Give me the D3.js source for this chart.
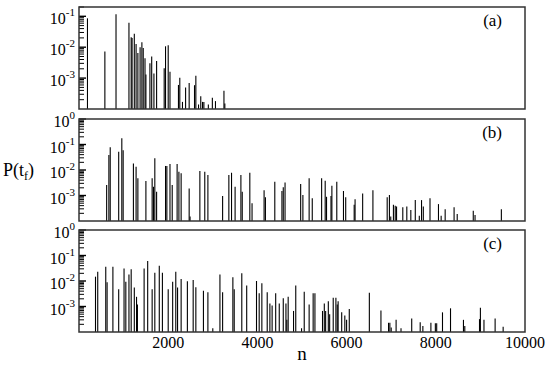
<!DOCTYPE html>
<html>
<head>
<meta charset="utf-8">
<script src="https://cdn.jsdelivr.net/npm/d3@7"></script>
<style>
  body { margin: 0; background: #fff; }
</style>
</head>
<body>
<svg id="chart" width="550" height="366" font-family="'Liberation Serif', 'Times New Roman', 'DejaVu Serif', serif"></svg>
<script>
// spike positions (n) and heights P(t_f)
const nA = [190, 580, 830, 1120, 1170, 1190, 1240, 1280, 1320, 1370, 1410, 1440, 1480, 1500,
            1590, 1630, 1680, 1740, 1910, 1940, 2000, 2040, 2230, 2260, 2320, 2390, 2470,
            2590, 2620, 2680, 2730, 2770, 2800, 2900, 2990, 3060, 3250, 3270];
const pA = [0.086, 0.0073, 0.116, 0.062, 0.021, 0.02, 0.027, 0.0127, 0.0065, 0.0099, 0.0144, 0.0094, 0.0044, 0.0013,
            0.003, 0.005, 0.0014, 0.0036, 0.0021, 0.0107, 0.0115, 0.0016, 0.0006, 0.00102, 0.00017, 0.0005, 0.0007,
            0.00059, 0.0012, 0.00014, 0.00026, 0.00017, 0.00017, 0.00014, 0.00023, 0.00018, 0.00039, 0.00015];

const nB = [620, 670, 700, 890, 960, 990, 1220, 1280, 1320, 1500, 1640, 1670, 1700, 1740, 1940, 1970,
            2040, 2090, 2200, 2240, 2290, 2470, 2490, 2710, 2820, 2890, 3220, 3360, 3420, 3500, 3630,
            3660, 3830, 3880, 4150, 4180, 4390, 4550, 4580, 4620, 4970, 5020, 5160, 5230, 5440, 5520,
            5550, 5650, 5670, 5780, 5930, 5980, 6170, 6190, 6360, 6590, 6910, 6960, 6990, 7050, 7090,
            7120, 7260, 7350, 7440, 7540, 7630, 7680, 7720, 7870, 8060, 8120, 8210, 8410, 8480, 8840,
            8880, 9470];
const pB = [0.0026, 0.039, 0.078, 0.052, 0.175, 0.06, 0.018, 0.0135, 0.0047, 0.0037, 0.0047, 0.0022, 0.029, 0.0014, 0.0144, 0.0144,
            0.017, 0.0026, 0.017, 0.0086, 0.0074, 0.0019, 0.00015, 0.0091, 0.0086, 0.0064, 0.00096, 0.0064, 0.0078, 0.0022, 0.0064,
            0.0014, 0.0078, 0.0005, 0.0016, 0.00085, 0.0035, 0.0015, 0.0021, 0.0032, 0.0028, 0.00104, 0.0047, 0.00078, 0.0047, 0.0038,
            0.00089, 0.00096, 0.0024, 0.0035, 0.0015, 0.00085, 0.00043, 0.00071, 0.0012, 0.0016, 0.00085, 0.00104, 0.00015, 0.00043, 0.0004,
            0.00037, 0.00035, 0.00037, 0.00027, 0.00066, 0.00016, 0.00066, 0.00037, 0.00078, 0.00046, 0.00016, 0.00029, 0.00035, 0.00019, 0.00025,
            0.00017, 0.00029];

const nC = [370, 420, 600, 630, 760, 890, 1010, 1050, 1120, 1170, 1240, 1290, 1310, 1460, 1540, 1640,
            1700, 1800, 1870, 2000, 2100, 2170, 2210, 2290, 2430, 2560, 2620, 2790, 2890, 3000, 3160,
            3220, 3450, 3480, 3650, 3760, 3980, 4040, 4100, 4220, 4280, 4330, 4410, 4490, 4580, 4640,
            4660, 4690, 4810, 4860, 4990, 5050, 5160, 5250, 5290, 5460, 5500, 5530, 5590, 5620, 5700,
            5760, 5790, 5810, 5890, 5960, 6000, 6060, 6510, 6770, 6940, 6970, 7000, 7110, 7220, 7460,
            7650, 7710, 7890, 7990, 8020, 8150, 8330, 8620, 8650, 8980, 9000, 9080, 9330, 9510];
const pC = [0.0148, 0.023, 0.036, 0.009, 0.036, 0.0047, 0.031, 0.0094, 0.018, 0.029, 0.0055, 0.0024, 0.0012, 0.031, 0.061, 0.0047,
            0.021, 0.04, 0.021, 0.0047, 0.0094, 0.023, 0.0055, 0.012, 0.0097, 0.011, 0.0057, 0.0041, 0.0036, 0.00014, 0.018,
            0.0036, 0.014, 0.0047, 0.02, 0.0066, 0.01, 0.0033, 0.0081, 0.0036, 0.0013, 0.0011, 0.0033, 0.0013, 0.0021, 0.0013,
            0.0003, 0.0024, 0.00067, 0.0066, 0.00014, 0.0038, 0.0012, 0.0033, 0.0033, 0.00067, 0.0013, 0.00067, 0.0016, 0.0005, 0.0022,
            0.0022, 0.0012, 0.0016, 0.00059, 0.00044, 0.0003, 0.0008, 0.0035, 0.00069, 0.00023, 0.00023, 0.00015, 0.0003, 0.00014, 0.00034,
            0.00024, 0.00017, 0.00023, 0.00022, 0.00022, 0.00059, 0.00085, 0.0003, 0.00017, 0.00032, 0.00089, 0.0003, 0.00034, 0.00016];

const xTicks = [2000, 4000, 6000, 8000, 10000];

const panels = [
  { label: "(a)", n: nA, p: pA, yMax: 0.2, exps: [-1, -2, -3] },
  { label: "(b)", n: nB, p: pB, yMax: 1, exps: [0, -1, -2, -3] },
  { label: "(c)", n: nC, p: pC, yMax: 1, exps: [0, -1, -2, -3] }
];

const svg = d3.select("#chart");
const left = 79, right = 525, ph = 102;
const tops = [7, 119, 230];

const x = d3.scaleLinear().domain([0, 10000]).range([left, right]);

panels.forEach((pan, i) => {
  const top = tops[i], bottom = top + ph;
  const y = d3.scaleLog().domain([1e-4, pan.yMax]).range([bottom, top]);
  const g = svg.append("g");

  // spikes
  g.selectAll("line.spike")
    .data(d3.zip(pan.n, pan.p))
    .enter().append("line")
    .attr("class", "spike")
    .attr("x1", d => x(d[0])).attr("x2", d => x(d[0]))
    .attr("y1", y(1e-4)).attr("y2", d => y(d[1]))
    .attr("stroke", "#000").attr("stroke-width", 1.1);

  // minor + major ticks, pointing inwards
  const ticks = [];
  for (let e = -4; e <= 0; e++) {
    for (let k = 1; k <= 9; k++) {
      const v = k * Math.pow(10, e);
      if (v > 1e-4 && v <= pan.yMax * 1.0001) ticks.push({ v: v, major: k === 1 });
    }
  }
  g.selectAll("line.tick")
    .data(ticks)
    .enter().append("line")
    .attr("class", "tick")
    .attr("x1", left).attr("x2", d => left + (d.major ? 7 : 5))
    .attr("y1", d => y(d.v)).attr("y2", d => y(d.v))
    .attr("stroke", "#000").attr("stroke-width", d => d.major ? 1.4 : 1);

  // tick labels 10^e
  const lab = g.selectAll("text.ylab")
    .data(pan.exps)
    .enter().append("text")
    .attr("class", "ylab")
    .attr("x", 75)
    .attr("y", d => y(Math.pow(10, d)) + 8)
    .attr("text-anchor", "end")
    .attr("font-size", 16);
  lab.append("tspan").text("10");
  lab.append("tspan").attr("dy", -8).attr("font-size", 11).text(d => String(d));

  // frame
  g.append("rect")
    .attr("x", left).attr("y", top)
    .attr("width", right - left).attr("height", ph)
    .attr("fill", "none").attr("stroke", "#333").attr("stroke-width", 1.5);

  g.append("text")
    .attr("x", 502).attr("y", top + 19)
    .attr("text-anchor", "end")
    .attr("font-size", 17)
    .text(pan.label);
});

// x tick labels, bottom panel only
svg.selectAll("text.xlab")
  .data(xTicks)
  .enter().append("text")
  .attr("class", "xlab")
  .attr("x", d => x(d))
  .attr("y", 348)
  .attr("text-anchor", "middle")
  .attr("font-size", 16)
  .text(d => d);

svg.append("text")
  .attr("x", x(5000)).attr("y", 360)
  .attr("text-anchor", "middle")
  .attr("font-size", 19)
  .text("n");

const yl = svg.append("text")
  .attr("x", 3).attr("y", 176)
  .attr("font-size", 18);
yl.append("tspan").text("P(t");
yl.append("tspan").attr("dy", 4).attr("font-size", 12).text("f");
yl.append("tspan").attr("dy", -4).text(")");
</script>
</body>
</html>
